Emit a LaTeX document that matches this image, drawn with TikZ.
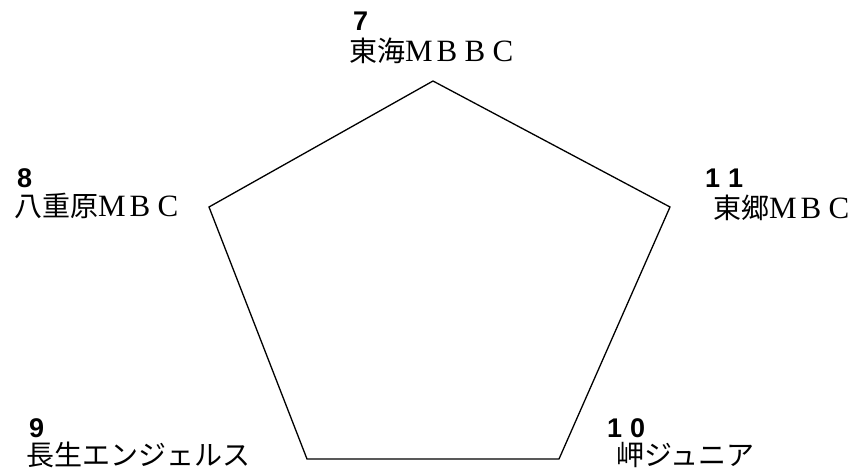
\documentclass[tikz,border=0pt]{standalone}
\usepackage{fontspec}
\newfontfamily\jp{Noto Sans CJK JP}
\newfontfamily\lat{Liberation Serif}
\newfontfamily\num{Liberation Sans}
\newcommand{\fwl}[1]{\makebox[28pt]{\lat\fontsize{31pt}{31pt}\selectfont #1}}
\tikzset{
  lbl/.style={anchor=base west, inner sep=0pt, outer sep=0pt, font=\jp\fontsize{28pt}{30pt}\selectfont},
  numlbl/.style={anchor=base west, inner sep=0pt, outer sep=0pt, font=\num\bfseries\fontsize{27pt}{29pt}\selectfont},
  edge/.style={line width=1.3pt, line join=miter}
}
\begin{document}
\begin{tikzpicture}[x=1pt,y=-1pt]
\useasboundingbox (0,0) rectangle (852,472);
% pentagon vertices
\coordinate (vt) at (433,81);
\coordinate (vr) at (670,207);
\coordinate (vbr) at (559,459);
\coordinate (vbl) at (307,459);
\coordinate (vl) at (209,207);
\draw[edge] (vt) -- (vr) -- (vbr) -- (vbl) -- (vl) -- cycle;
% top
\node[numlbl] (n7) at (353,30) {7};
\node[lbl] (t7) at (349,61) {東海\fwl{M}\fwl{B}\fwl{B}\fwl{C}};
% left
\node[numlbl] (n8) at (17,187) {8};
\node[lbl] (t8) at (14,216) {八重原\fwl{M}\fwl{B}\fwl{C}};
% right
\node[numlbl] (n11) at (705,187) {1\hspace{8pt}1};
\node[lbl] (t11) at (713,218) {東郷\fwl{M}\fwl{B}\fwl{C}};
% bottom left
\node[numlbl] (n9) at (29,437) {9};
\node[lbl] (t9) at (27,465) {長生エンジェルス};
% bottom right
\node[numlbl] (n10) at (607,437) {1\hspace{8pt}0};
\node[lbl] (t10) at (616,465) {岬ジュニア};
\end{tikzpicture}
\end{document}
